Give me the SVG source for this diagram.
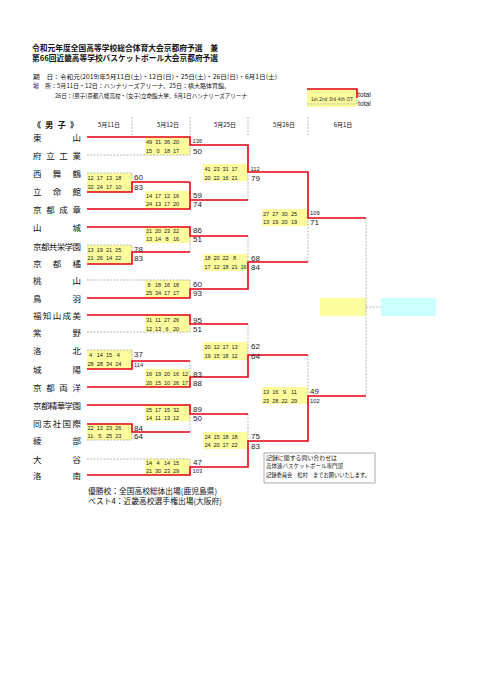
<svg xmlns="http://www.w3.org/2000/svg" width="480" height="680" viewBox="0 0 480 680">
<style>
.jp{font-family:'Noto Sans CJK JP','Noto Sans CJK SC',sans-serif;fill:#111}
.nm{font-size:8.5px;dominant-baseline:central}
.num{font-family:'Liberation Sans',Arial,sans-serif;fill:#222;dominant-baseline:central}
.sc{font-size:5.6px;text-anchor:middle}
.t2{font-size:8px}
.t3{font-size:5.8px}
.box{fill:#fdfd9e}
.red{stroke:#e60012;stroke-width:1.6;fill:none}
.gry{stroke:#9a9a9a;stroke-width:0.7;stroke-dasharray:2 1.3;fill:none}
</style>
<rect width="480" height="680" fill="#fff"/>

<!-- header -->
<g id="header" class="jp">
<text x="32" y="47" font-size="8" font-weight="bold" dominant-baseline="central" textLength="186" lengthAdjust="spacingAndGlyphs">令和元年度全国高等学校総合体育大会京都府予選　兼</text>
<text x="32" y="57" font-size="8" font-weight="bold" dominant-baseline="central" textLength="186" lengthAdjust="spacingAndGlyphs">第66回近畿高等学校バスケットボール大会京都府予選</text>
<text x="33" y="76" font-size="6" dominant-baseline="central" textLength="244" lengthAdjust="spacingAndGlyphs">期　日：令和元(2019)年5月11日(土)・12日(日)・25日(土)・26日(日)・6月1日(土)</text>
<text x="33" y="85" font-size="6" dominant-baseline="central" textLength="197" lengthAdjust="spacingAndGlyphs">場　所：5月11日・12日：ハンナリーズアリーナ、25日：横大路体育館、</text>
<text x="55" y="95" font-size="6" dominant-baseline="central" textLength="192" lengthAdjust="spacingAndGlyphs">26日：(男子)京都八幡高校・(女子)立命館大学、6月1日ハンナリーズアリーナ</text>
</g>

<!-- legend -->
<g id="legend">
<rect class="box" x="307" y="89" width="50" height="18"/>
<path class="red" d="M307 89 H357 V98"/>
<path class="gry" d="M307 104 H357 V98"/>
<text class="num" x="311" y="99" font-size="4.6" textLength="42" lengthAdjust="spacing">1st  2nd 3rd 4th OT</text>
<text class="num" x="358" y="94" font-size="6.8">total</text>
<text class="num" x="358" y="103.5" font-size="6.8">total</text>
</g>

<!-- column headers -->
<g id="columns">
<text class="jp" x="33" y="124" font-size="8" font-weight="bold" dominant-baseline="central" textLength="45" lengthAdjust="spacing">《男子》</text>
<g class="jp" font-size="6" text-anchor="middle" dominant-baseline="central">
<text x="109" y="124">5月11日</text>
<text x="168" y="124">5月12日</text>
<text x="225" y="124">5月25日</text>
<text x="284" y="124">5月26日</text>
<text x="343" y="124">6月1日</text>
</g>
<path class="gry" d="M132 117 V135 M190 117 V135 M248 117 V135 M308 117 V135"/>
</g>

<!-- score boxes -->
<g id="boxes">
<rect class="box" x="87" y="173" width="45" height="19"/>
<rect class="box" x="87" y="245" width="45" height="19"/>
<rect class="box" x="87" y="350" width="45" height="19"/>
<rect class="box" x="87" y="424" width="45" height="16"/>
<rect class="box" x="145" y="137" width="45" height="18"/>
<rect class="box" x="145" y="191" width="45" height="18"/>
<rect class="box" x="145" y="227" width="45" height="16"/>
<rect class="box" x="145" y="280" width="45" height="18"/>
<rect class="box" x="145" y="315" width="45" height="17"/>
<rect class="box" x="145" y="369" width="45" height="18"/>
<rect class="box" x="145" y="405" width="45" height="16"/>
<rect class="box" x="145" y="459" width="45" height="16"/>
<rect class="box" x="203" y="164" width="45" height="17"/>
<rect class="box" x="203" y="254" width="45" height="17"/>
<rect class="box" x="203" y="342" width="45" height="18"/>
<rect class="box" x="203" y="432" width="45" height="17"/>
<rect class="box" x="262" y="209" width="46" height="17"/>
<rect class="box" x="262" y="387" width="46" height="17"/>
<rect id="final" class="box" x="320" y="298" width="46" height="18"/>
<rect id="champion" x="381" y="298" width="55" height="18" fill="#ccffff"/>
</g>

<!-- connectors -->
<g id="connectors">
<path class="gry" d="M87 173 H132 V182 M87 245 H132 V252 M87 350 H132 V361 M87 440 H132 V432"/>
<path class="gry" d="M87 155 H190 V145 M190 252 V236 M87 280 H190 V289 M87 332 H190 V324 M190 361 V377 M190 432 V414 M87 459 H190 V467"/>
<path class="gry" d="M248 200 V172 M248 236 V262 M248 324 V355 M248 414 V441"/>
<path class="gry" d="M308 262 V218 M308 355 V396 M366 218 V396 M366 307 H381"/>
<path class="red" d="M87 192 H132 V182 H190 M87 264 H132 V252 H190 M87 369 H132 V361 H190 M87 424 H132 V432 H190"/>
<path class="red" d="M87 137 H190 V145 H248 V172 H308 V218 H366"/>
<path class="red" d="M190 182 V200 M87 209 H190 V200 H248"/>
<path class="red" d="M87 227 H190 V236 H248"/>
<path class="red" d="M87 298 H190 V289 H248 V262 H308"/>
<path class="red" d="M87 315 H190 V324 H248"/>
<path class="red" d="M87 387 H190 V377 H248 V355 H308"/>
<path class="red" d="M87 405 H190 V414 H248"/>
<path class="red" d="M87 475 H190 V467 H248 V441 H308 V396 H366"/>
</g>

<!-- teams -->
<g class="jp nm">
<g id="t01"><text x="33" y="137" textLength="48" lengthAdjust="spacing">東山</text></g>
<g id="t02"><text x="33" y="155" textLength="48" lengthAdjust="spacing">府立工業</text></g>
<g id="t03"><text x="33" y="173" textLength="48" lengthAdjust="spacing">西舞鶴</text></g>
<g id="t04"><text x="33" y="191" textLength="48" lengthAdjust="spacing">立命館</text></g>
<g id="t05"><text x="33" y="209" textLength="48" lengthAdjust="spacing">京都成章</text></g>
<g id="t06"><text x="33" y="227" textLength="48" lengthAdjust="spacing">山城</text></g>
<g id="t07"><text x="33" y="246" textLength="48" lengthAdjust="spacing">京都共栄学園</text></g>
<g id="t08"><text x="33" y="263" textLength="48" lengthAdjust="spacing">京都橘</text></g>
<g id="t09"><text x="33" y="280" textLength="48" lengthAdjust="spacing">桃山</text></g>
<g id="t10"><text x="33" y="298" textLength="48" lengthAdjust="spacing">鳥羽</text></g>
<g id="t11"><text x="33" y="315" textLength="48" lengthAdjust="spacing">福知山成美</text></g>
<g id="t12"><text x="33" y="332" textLength="48" lengthAdjust="spacing">紫野</text></g>
<g id="t13"><text x="33" y="350" textLength="48" lengthAdjust="spacing">洛北</text></g>
<g id="t14"><text x="33" y="369" textLength="48" lengthAdjust="spacing">城陽</text></g>
<g id="t15"><text x="33" y="387" textLength="48" lengthAdjust="spacing">京都両洋</text></g>
<g id="t16"><text x="33" y="405" textLength="48" lengthAdjust="spacing">京都精華学園</text></g>
<g id="t17"><text x="33" y="423" textLength="48" lengthAdjust="spacing">同志社国際</text></g>
<g id="t18"><text x="33" y="440" textLength="48" lengthAdjust="spacing">綾部</text></g>
<g id="t19"><text x="33" y="459" textLength="48" lengthAdjust="spacing">大谷</text></g>
<g id="t20"><text x="33" y="475" textLength="48" lengthAdjust="spacing">洛南</text></g>
</g>

<!-- quarter scores -->
<g class="num sc">
<text y="178"><tspan x="90.5">12</tspan><tspan x="99.8">17</tspan><tspan x="109">13</tspan><tspan x="118.3">18</tspan></text>
<text y="186.5"><tspan x="90.5">32</tspan><tspan x="99.8">24</tspan><tspan x="109">17</tspan><tspan x="118.3">10</tspan></text>
<text y="249.5"><tspan x="90.5">13</tspan><tspan x="99.8">19</tspan><tspan x="109">21</tspan><tspan x="118.3">25</tspan></text>
<text y="258"><tspan x="90.5">21</tspan><tspan x="99.8">26</tspan><tspan x="109">14</tspan><tspan x="118.3">22</tspan></text>
<text y="355"><tspan x="90.5">4</tspan><tspan x="99.8">14</tspan><tspan x="109">15</tspan><tspan x="118.3">4</tspan></text>
<text y="364"><tspan x="90.5">28</tspan><tspan x="99.8">28</tspan><tspan x="109">34</tspan><tspan x="118.3">24</tspan></text>
<text y="428"><tspan x="90.5">22</tspan><tspan x="99.8">13</tspan><tspan x="109">23</tspan><tspan x="118.3">26</tspan></text>
<text y="436"><tspan x="90.5">11</tspan><tspan x="99.8">5</tspan><tspan x="109">25</tspan><tspan x="118.3">23</tspan></text>

<text y="142"><tspan x="149">49</tspan><tspan x="158">31</tspan><tspan x="167">36</tspan><tspan x="176">20</tspan></text>
<text y="150.5"><tspan x="149">15</tspan><tspan x="158">0</tspan><tspan x="167">18</tspan><tspan x="176">17</tspan></text>
<text y="195.5"><tspan x="149">14</tspan><tspan x="158">17</tspan><tspan x="167">12</tspan><tspan x="176">16</tspan></text>
<text y="204"><tspan x="149">24</tspan><tspan x="158">13</tspan><tspan x="167">17</tspan><tspan x="176">20</tspan></text>
<text y="230.5"><tspan x="149">21</tspan><tspan x="158">20</tspan><tspan x="167">23</tspan><tspan x="176">22</tspan></text>
<text y="238.5"><tspan x="149">13</tspan><tspan x="158">14</tspan><tspan x="167">8</tspan><tspan x="176">16</tspan></text>
<text y="284.5"><tspan x="149">8</tspan><tspan x="158">18</tspan><tspan x="167">16</tspan><tspan x="176">18</tspan></text>
<text y="293"><tspan x="149">25</tspan><tspan x="158">34</tspan><tspan x="167">17</tspan><tspan x="176">17</tspan></text>
<text y="320"><tspan x="149">31</tspan><tspan x="158">11</tspan><tspan x="167">27</tspan><tspan x="176">26</tspan></text>
<text y="328.5"><tspan x="149">12</tspan><tspan x="158">13</tspan><tspan x="167">6</tspan><tspan x="176">20</tspan></text>
<text y="374"><tspan x="149">16</tspan><tspan x="158">19</tspan><tspan x="167">20</tspan><tspan x="176">16</tspan><tspan x="185">12</tspan></text>
<text y="382.5"><tspan x="149">20</tspan><tspan x="158">15</tspan><tspan x="167">10</tspan><tspan x="176">26</tspan><tspan x="185">17</tspan></text>
<text y="409.5"><tspan x="149">25</tspan><tspan x="158">17</tspan><tspan x="167">15</tspan><tspan x="176">32</tspan></text>
<text y="417.5"><tspan x="149">14</tspan><tspan x="158">11</tspan><tspan x="167">13</tspan><tspan x="176">12</tspan></text>
<text y="463"><tspan x="149">14</tspan><tspan x="158">4</tspan><tspan x="167">14</tspan><tspan x="176">15</tspan></text>
<text y="471"><tspan x="149">21</tspan><tspan x="158">30</tspan><tspan x="167">23</tspan><tspan x="176">29</tspan></text>

<text y="169"><tspan x="207.5">41</tspan><tspan x="216.5">23</tspan><tspan x="225.5">31</tspan><tspan x="234.5">17</tspan></text>
<text y="177.5"><tspan x="207.5">20</tspan><tspan x="216.5">22</tspan><tspan x="225.5">16</tspan><tspan x="234.5">21</tspan></text>
<text y="258"><tspan x="207.5">18</tspan><tspan x="216.5">20</tspan><tspan x="225.5">22</tspan><tspan x="234.5">8</tspan></text>
<text y="266.5"><tspan x="207.5">17</tspan><tspan x="216.5">12</tspan><tspan x="225.5">18</tspan><tspan x="234.5">21</tspan><tspan x="243.5">16</tspan></text>
<text y="347"><tspan x="207.5">20</tspan><tspan x="216.5">12</tspan><tspan x="225.5">17</tspan><tspan x="234.5">13</tspan></text>
<text y="355.5"><tspan x="207.5">19</tspan><tspan x="216.5">15</tspan><tspan x="225.5">18</tspan><tspan x="234.5">12</tspan></text>
<text y="436.5"><tspan x="207.5">24</tspan><tspan x="216.5">15</tspan><tspan x="225.5">18</tspan><tspan x="234.5">18</tspan></text>
<text y="445"><tspan x="207.5">24</tspan><tspan x="216.5">20</tspan><tspan x="225.5">17</tspan><tspan x="234.5">22</tspan></text>

<text y="213.5"><tspan x="266">27</tspan><tspan x="275.3">27</tspan><tspan x="284.6">30</tspan><tspan x="294">25</tspan></text>
<text y="222"><tspan x="266">13</tspan><tspan x="275.3">19</tspan><tspan x="284.6">20</tspan><tspan x="294">19</tspan></text>
<text y="391.5"><tspan x="266">13</tspan><tspan x="275.3">16</tspan><tspan x="284.6">9</tspan><tspan x="294">11</tspan></text>
<text y="400.5"><tspan x="266">23</tspan><tspan x="275.3">28</tspan><tspan x="284.6">22</tspan><tspan x="294">29</tspan></text>
</g>

<!-- totals -->
<g class="num">
<text class="t2" x="134" y="177">60</text><text class="t2" x="134" y="187">83</text>
<text class="t2" x="134" y="249">78</text><text class="t2" x="134" y="258">83</text>
<text class="t2" x="134" y="354">37</text><text class="t3" x="134" y="364.5">114</text>
<text class="t2" x="134" y="428">84</text><text class="t2" x="134" y="436.5">64</text>

<text class="t3" x="192.5" y="141">136</text><text class="t2" x="193" y="151">50</text>
<text class="t2" x="193" y="195">59</text><text class="t2" x="193" y="204">74</text>
<text class="t2" x="193" y="230">86</text><text class="t2" x="193" y="239">51</text>
<text class="t2" x="193" y="284">60</text><text class="t2" x="193" y="293.5">93</text>
<text class="t2" x="193" y="320">95</text><text class="t2" x="193" y="329">51</text>
<text class="t2" x="193" y="374">83</text><text class="t2" x="193" y="383">88</text>
<text class="t2" x="193" y="409">89</text><text class="t2" x="193" y="418.5">50</text>
<text class="t2" x="193" y="462">47</text><text class="t3" x="192.5" y="470.5">103</text>

<text class="t3" x="250.5" y="168.5">112</text><text class="t2" x="251" y="178">79</text>
<text class="t2" x="251" y="258">68</text><text class="t2" x="251" y="267">84</text>
<text class="t2" x="251" y="346">62</text><text class="t2" x="251" y="356">64</text>
<text class="t2" x="251" y="436">75</text><text class="t2" x="251" y="446">83</text>

<text class="t3" x="310" y="213">109</text><text class="t2" x="310" y="222.5">71</text>
<text class="t2" x="310" y="391">49</text><text class="t3" x="310" y="400.5">102</text>
</g>

<!-- note box -->
<g id="note" class="jp" font-size="5.6" dominant-baseline="central">
<rect x="264" y="453" width="111" height="30" fill="none" stroke="#777" stroke-width="0.6"/>
<text x="266" y="457.5" textLength="71" lengthAdjust="spacingAndGlyphs">記録に関する問い合わせは</text>
<text x="266" y="466" textLength="77" lengthAdjust="spacingAndGlyphs">高体連バスケットボール専門部</text>
<text x="266" y="474.5" textLength="104" lengthAdjust="spacingAndGlyphs">記録委員会　松村　までお願いいたします。</text>
</g>

<!-- footer -->
<g id="footer" class="jp" font-size="8" dominant-baseline="central">
<text x="88" y="490.5" textLength="129" lengthAdjust="spacingAndGlyphs">優勝校：全国高校総体出場(鹿児島県)</text>
<text x="88" y="500.5" textLength="134" lengthAdjust="spacingAndGlyphs">ベスト4：近畿高校選手権出場(大阪府)</text>
</g>
</svg>
